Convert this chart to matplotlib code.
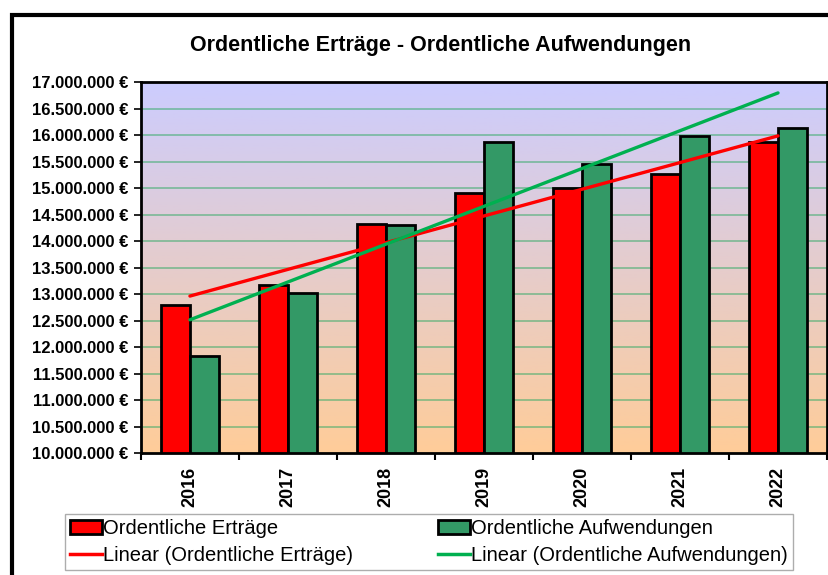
import numpy as np
import matplotlib.pyplot as plt
from matplotlib.patches import Patch, Rectangle
from matplotlib.lines import Line2D
from matplotlib.colors import LinearSegmentedColormap
from matplotlib.ticker import FuncFormatter

# Daten
jahre = ['2016', '2017', '2018', '2019', '2020', '2021', '2022']
ertraege = [12790000, 13170000, 14320000, 14900000, 15000000, 15260000, 15870000]
aufwendungen = [11830000, 13020000, 14300000, 15870000, 15450000, 15980000, 16130000]

plt.rcParams['font.family'] = ['Liberation Sans', 'DejaVu Sans']

fig = plt.figure(figsize=(8.29, 5.75), dpi=100)
ax = fig.add_axes([0.170, 0.212, 0.8276, 0.6454])

x = np.arange(len(jahre))
w = 0.295

# Hintergrund mit Farbverlauf
cmap = LinearSegmentedColormap.from_list('bg', ['#FFCC99', '#CCCCFF'])
grad = np.linspace(0, 1, 256).reshape(-1, 1)
ax.imshow(grad, cmap=cmap, origin='lower', aspect='auto',
          extent=[-0.5, 6.5, 10e6, 17e6], zorder=0)

# Gitterlinien
for yv in np.arange(10.5e6, 17e6, 0.5e6):
    ax.axhline(yv, color='#33AA66', alpha=0.5, lw=1.4, zorder=1)

ax.bar(x - w, ertraege, w, align='edge', color='#FF0000', edgecolor='black', lw=2, zorder=2)
ax.bar(x, aufwendungen, w, align='edge', color='#339966', edgecolor='black', lw=2, zorder=2)

# Lineare Trendlinien
for werte, farbe in [(ertraege, '#FF0000'), (aufwendungen, '#00B050')]:
    k, d = np.polyfit(x, werte, 1)
    ax.plot([x[0], x[-1]], [k * x[0] + d, k * x[-1] + d], color=farbe, lw=2.4, zorder=3,
            solid_capstyle='round')

ax.set_xlim(-0.5, 6.5)
ax.set_ylim(10e6, 17e6)
ax.set_yticks(np.arange(10e6, 17.01e6, 0.5e6))
ax.yaxis.set_major_formatter(FuncFormatter(lambda v, p: f'{int(v):,} €'.replace(',', '.')))
ax.set_xticks(np.arange(-0.5, 6.6, 1))
ax.set_xticklabels([])
ax.set_xticks(x, minor=True)
ax.set_xticklabels(jahre, minor=True, rotation=90, fontweight='heavy', fontsize=13)
ax.tick_params(axis='x', which='minor', length=0, pad=10)
ax.tick_params(axis='x', which='major', length=5, width=1.5)
ax.tick_params(axis='y', length=5, width=1.2, labelsize=12, pad=4)
for lab in ax.get_yticklabels():
    lab.set_fontweight('bold')
for s in ax.spines.values():
    s.set_linewidth(2)

fig.text(0.532, 0.92, 'Ordentliche Erträge - Ordentliche Aufwendungen',
         ha='center', va='center', fontsize=15.5, fontweight='bold')

handles = [Patch(facecolor='#FF0000', edgecolor='black', lw=2),
           Line2D([], [], color='#FF0000', lw=2.5),
           Patch(facecolor='#339966', edgecolor='black', lw=2),
           Line2D([], [], color='#00B050', lw=2.5)]
labels = ['Ordentliche Erträge', 'Linear (Ordentliche Erträge)',
          'Ordentliche Aufwendungen', 'Linear (Ordentliche Aufwendungen)']
leg = fig.legend(handles, labels, ncol=2, loc='upper left', mode='expand',
                 bbox_to_anchor=(65 / 829, 0.0, 728 / 829, 1 - 514 / 575), fontsize=14.5,
                 frameon=True, fancybox=False, edgecolor='#999999',
                 handlelength=1.6, handletextpad=0.05, borderpad=0.25,
                 labelspacing=0.4, borderaxespad=0)
leg.get_frame().set_linewidth(1)

# Rahmen um das Diagramm
fig.patches.append(Rectangle((12 / 829, -0.1), 1.2, 1.1 - 15 / 575,
                             transform=fig.transFigure, fill=False,
                             edgecolor='black', lw=3))

fig.savefig('out.png', dpi=100, facecolor='white')
